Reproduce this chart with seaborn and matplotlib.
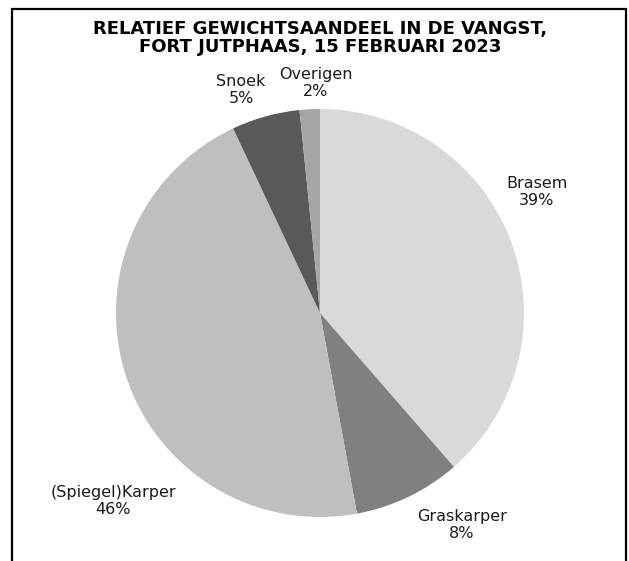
""" Relatief gewichtsaandeel in de vangst - taartdiagram """

import matplotlib
matplotlib.use('Agg')
import matplotlib.pyplot as plt
from matplotlib.patches import Rectangle
import seaborn as sns

sns.set_theme(style='white')
plt.rcParams['font.family'] = ['DejaVu Sans']

# data (clockwise from the top)
soorten = ['Brasem', 'Graskarper', '(Spiegel)Karper', 'Snoek', 'Overigen']
aandeel = [38.6, 8.5, 45.9, 5.4, 1.6]
kleuren = ['#d9d9d9', '#808080', '#bfbfbf', '#595959', '#a6a6a6']
titel = 'RELATIEF GEWICHTSAANDEEL IN DE VANGST,\nFORT JUTPHAAS, 15 FEBRUARI 2023'

# label positions (pixel coords, y from top)
label_pos = [(537, 192), (462, 525), (113, 501), (241, 90), (316, 83)]

W, H = 629, 561
dpi = 100
fig = plt.figure(figsize=(W / dpi, H / dpi), dpi=dpi)
ax = fig.add_axes([0, 0, 1, 1])

cx, cy, r = 320, 313, 204
ax.pie(aandeel, colors=kleuren, startangle=90, counterclock=False,
       center=(cx, H - cy), radius=r, frame=True,
       wedgeprops={'linewidth': 0, 'antialiased': True})
ax.set_xlim(0, W)
ax.set_ylim(0, H)
ax.set_aspect('equal')
ax.axis('off')

for naam, waarde, (x, y) in zip(soorten, aandeel, label_pos):
    ax.text(x, H - y, f'{naam}\n{round(waarde)}%', ha='center', va='center',
            fontsize=11.5, color='#1a1a1a', linespacing=1.12)

ax.text(320, H - 38, titel, ha='center', va='center', fontsize=13,
        fontweight='bold', color='black', linespacing=1.02)

fig.patches.append(Rectangle((12 / W, -0.05), 614 / W, 1.05 - 9 / H,
                             transform=fig.transFigure, fill=False,
                             edgecolor='black', linewidth=1.6))

fig.savefig('out.png', dpi=dpi)
